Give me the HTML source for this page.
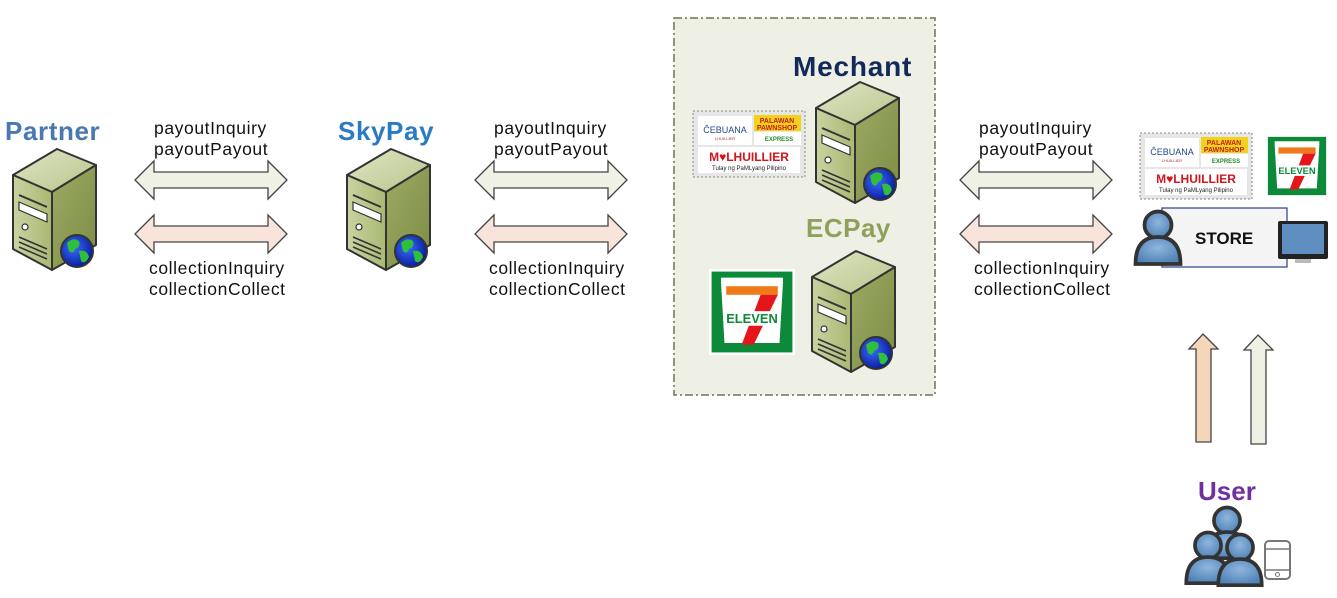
<!DOCTYPE html>
<html><head><meta charset="utf-8"><style>
body{margin:0;background:#fff;}
svg text{font-family:"Liberation Sans",sans-serif;}
</style></head><body>
<svg width="1337" height="593" viewBox="0 0 1337 593" xmlns="http://www.w3.org/2000/svg">
<defs>
<linearGradient id="tg" x1="0" y1="0" x2="1" y2="1"><stop offset="0" stop-color="#dfe6c4"/><stop offset="1" stop-color="#b9c48c"/></linearGradient>
<linearGradient id="lg" x1="0" y1="0" x2="1" y2="0"><stop offset="0" stop-color="#c9d3a1"/><stop offset="1" stop-color="#a9b873"/></linearGradient>
<linearGradient id="rg" x1="0" y1="0" x2="1" y2="1"><stop offset="0" stop-color="#9cab63"/><stop offset="1" stop-color="#7d8c45"/></linearGradient>
<radialGradient id="gg" cx="0.4" cy="0.4" r="0.6"><stop offset="0" stop-color="#3a6cff"/><stop offset="1" stop-color="#0a1fa0"/></radialGradient>
<radialGradient id="pg" cx="0.5" cy="0.4" r="0.6"><stop offset="0" stop-color="#8fb6dd"/><stop offset="1" stop-color="#4f82b8"/></radialGradient>
<g id="srv">
<polygon points="2,28 46,2 85,18 41,45" fill="url(#tg)" stroke="#333" stroke-width="2" stroke-linejoin="round"/>
<polygon points="2,28 41,45 41,123 2,102" fill="url(#lg)" stroke="#333" stroke-width="2" stroke-linejoin="round"/>
<polygon points="41,45 85,18 85,98 41,123" fill="url(#rg)" stroke="#333" stroke-width="2" stroke-linejoin="round"/>
<line x1="8" y1="48" x2="36" y2="60" stroke="#333" stroke-width="2"/>
<polygon points="8,55 36,67 36,75 8,63" fill="#fff" stroke="#333" stroke-width="1.2"/>
<circle cx="14" cy="80" r="3" fill="#fff" stroke="#333" stroke-width="1.2"/>
<line x1="8" y1="90" x2="36" y2="102" stroke="#333" stroke-width="1.5"/>
<line x1="8" y1="95" x2="36" y2="107" stroke="#333" stroke-width="1.5"/>
<line x1="8" y1="100" x2="36" y2="112" stroke="#333" stroke-width="1.5"/>
<circle cx="66" cy="104" r="16" fill="url(#gg)" stroke="#333" stroke-width="2"/>
<path d="M56,96 q6,-6 12,-2 q2,6 -4,8 q-2,6 -6,2z M68,104 q8,-2 10,6 q-4,8 -8,4z" fill="#2fbf3a"/>
</g>
<g id="harr">
<polygon points="0,20 19,1 19,12 133,12 133,1 152,20 133,39 133,28 19,28 19,39" stroke="#444" stroke-width="1.3"/>
</g>
<g id="logos">
<rect x="0" y="0" width="112" height="66" fill="#e6e6e6" stroke="#888" stroke-dasharray="2,2"/>
<rect x="5" y="5" width="54" height="29" fill="#fff"/>
<text x="32" y="22" font-size="9" fill="#234a8a" text-anchor="middle" font-family="Liberation Serif,serif">ĈEBUANA</text>
<text x="32" y="29" font-size="4" fill="#b03030" text-anchor="middle">LHUILLIER</text>
<rect x="61" y="4" width="47" height="16" fill="#f2d21b"/>
<text x="84" y="12" font-size="7" fill="#c0201c" text-anchor="middle" font-weight="bold">PALAWAN</text>
<text x="84" y="19" font-size="7" fill="#c0201c" text-anchor="middle" font-weight="bold">PAWNSHOP</text>
<rect x="61" y="21" width="47" height="13" fill="#fff"/>
<text x="86" y="30" font-size="6" fill="#2a8a2a" text-anchor="middle" font-weight="bold">EXPRESS</text>
<rect x="5" y="36" width="102" height="26" fill="#fff"/>
<text x="56" y="50" font-size="12" fill="#d2141c" text-anchor="middle" font-weight="bold">M♥LHUILLIER</text>
<text x="56" y="59" font-size="6" fill="#222" text-anchor="middle">Tulay ng PaMLyang Pilipino</text>
</g>
<g id="seven">
<rect x="0" y="0" width="100" height="100" fill="#fff"/>
<rect x="3" y="3" width="94" height="94" fill="#0c8a3a"/>
<path d="M14,10 h72 v6 l-4,70 h-64 l-4,-70z" fill="#fff"/>
<rect x="20" y="20" width="60" height="10" fill="#f07a1a"/>
<path d="M60,30 h20 l-28,58 h-14z" fill="#e4161c"/>
<rect x="22" y="49" width="56" height="17" fill="#fff"/>
<text x="50" y="63" font-size="15" font-weight="bold" fill="#0c8a3a" text-anchor="middle">ELEVEN</text>
</g>
<g id="person">
<circle cx="0" cy="-10" r="9" fill="url(#pg)" stroke="#333" stroke-width="2.5"/>
<path d="M-15,16 q0,-18 15,-18 q15,0 15,18z" fill="url(#pg)" stroke="#333" stroke-width="2.5"/>
</g>
</defs>

<rect x="674" y="18" width="261" height="377" fill="#eef0e6" stroke="#6d7450" stroke-width="1.5" stroke-dasharray="8,3,2,3"/>

<g font-family="DejaVu Sans,sans-serif" font-weight="bold">
<text x="5" y="140" font-size="26" letter-spacing="0.6" fill="#4a78b0">Partner</text>
<text x="338" y="140" font-size="26" letter-spacing="0.6" fill="#2a7ac4">SkyPay</text>
<text x="793" y="76" font-size="28" letter-spacing="0.8" fill="#14295a">Mechant</text>
<text x="806" y="237" font-size="26" letter-spacing="0.5" fill="#8f9f5c">ECPay</text>
<text x="1198" y="500" font-size="26" fill="#7030a0">User</text>
</g>

<use href="#srv" x="11" y="147"/>
<use href="#srv" x="345" y="147"/>
<use href="#srv" x="814" y="80"/>
<use href="#srv" x="810" y="249"/>

<use href="#harr" x="135" y="160" fill="#eef1e4"/>
<use href="#harr" x="135" y="214" fill="#f8e4da"/>
<use href="#harr" x="475" y="160" fill="#eef1e4"/>
<use href="#harr" x="475" y="214" fill="#f8e4da"/>
<use href="#harr" x="960" y="160" fill="#eef1e4"/>
<use href="#harr" x="960" y="214" fill="#f8e4da"/>

<g font-size="17.5" letter-spacing="0.6" fill="#111">
<text x="154" y="134">payoutInquiry</text><text x="154" y="155">payoutPayout</text>
<text x="149" y="274">collectionInquiry</text><text x="149" y="295">collectionCollect</text>
<text x="494" y="134">payoutInquiry</text><text x="494" y="155">payoutPayout</text>
<text x="489" y="274">collectionInquiry</text><text x="489" y="295">collectionCollect</text>
<text x="979" y="134">payoutInquiry</text><text x="979" y="155">payoutPayout</text>
<text x="974" y="274">collectionInquiry</text><text x="974" y="295">collectionCollect</text>
</g>

<use href="#logos" x="693" y="111"/>
<g transform="translate(709,269) scale(0.86)"><use href="#seven"/></g>
<use href="#logos" x="1140" y="133"/>
<g transform="translate(1266,135) scale(0.62)"><use href="#seven"/></g>

<rect x="1162" y="208" width="125" height="59" fill="#f4f4f4" stroke="#2b3c88" stroke-width="1.2"/>
<text x="1195" y="244" font-size="17" font-weight="bold" fill="#111">STORE</text>
<g transform="translate(1158,240) scale(1.5)"><use href="#person"/></g>
<rect x="1278" y="221" width="50" height="38" fill="#222" rx="2"/>
<rect x="1282" y="224" width="42" height="30" fill="#5f8fc0"/>
<rect x="1295" y="259" width="16" height="4" fill="#bbb"/>

<polygon points="1203,334 1218,349 1211,349 1211,442 1196,442 1196,349 1189,349" fill="#f6d6b8" stroke="#444" stroke-width="1.3"/>
<polygon points="1258,335 1273,350 1266,350 1266,444 1251,444 1251,350 1244,350" fill="#eef1e4" stroke="#444" stroke-width="1.3"/>

<g transform="translate(1227,535) scale(1.45)"><use href="#person"/></g>
<g transform="translate(1208,560) scale(1.45)"><use href="#person"/></g>
<g transform="translate(1240,562) scale(1.45)"><use href="#person"/></g>
<rect x="1265" y="541" width="25" height="38" rx="4" fill="#fff" stroke="#777" stroke-width="2"/>
<line x1="1266" y1="549" x2="1289" y2="549" stroke="#777" stroke-width="1.5"/>
<line x1="1266" y1="570" x2="1289" y2="570" stroke="#777" stroke-width="1.5"/>
<circle cx="1277.5" cy="574.5" r="2" fill="none" stroke="#777"/>
</svg>
</body></html>
